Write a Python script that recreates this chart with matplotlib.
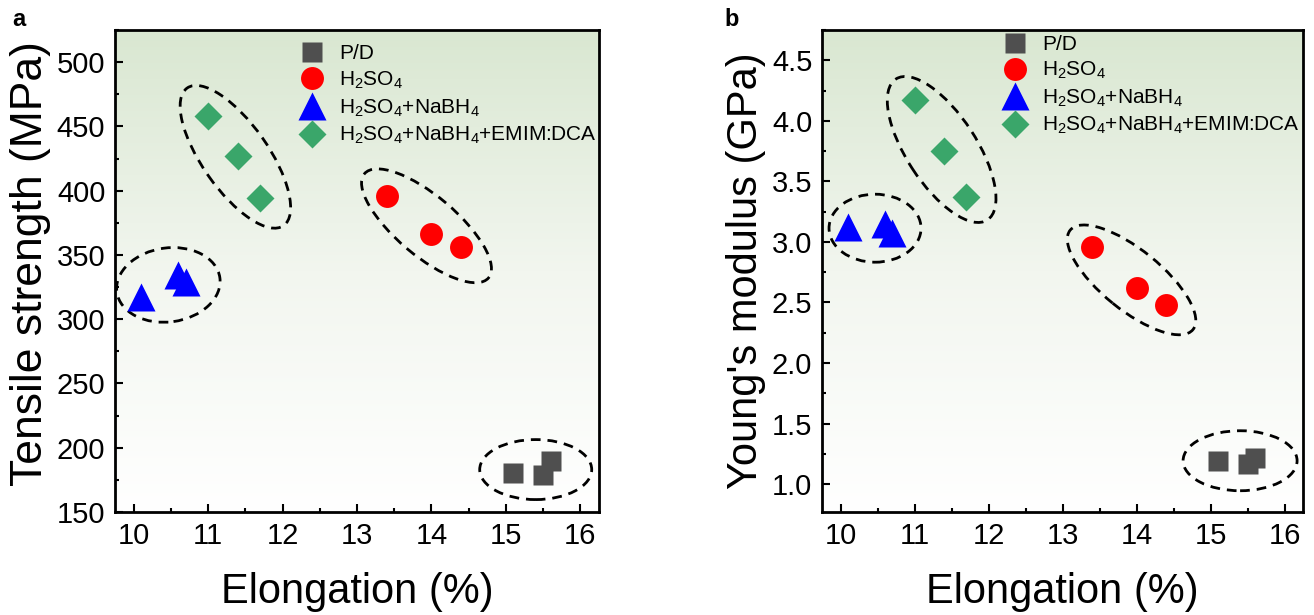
import numpy as np
import matplotlib
matplotlib.use('Agg')
import matplotlib.pyplot as plt
from matplotlib.patches import Ellipse
from matplotlib.transforms import ScaledTranslation
from matplotlib.colors import LinearSegmentedColormap
from matplotlib.ticker import MultipleLocator, FormatStrFormatter

plt.rcParams['font.family'] = ['Liberation Sans', 'DejaVu Sans']
plt.rcParams['mathtext.fontset'] = 'custom'
plt.rcParams['mathtext.rm'] = 'Liberation Sans'
plt.rcParams['mathtext.it'] = 'Liberation Sans:italic'
plt.rcParams['mathtext.bf'] = 'Liberation Sans:bold'

# ---------------- data ----------------
group_labels = ['P/D', 'H$_2$SO$_4$', 'H$_2$SO$_4$+NaBH$_4$',
                'H$_2$SO$_4$+NaBH$_4$+EMIM:DCA']

pd_elong = [15.1, 15.5, 15.6]
pd_tensile = [180, 179, 190]
pd_modulus = [1.19, 1.17, 1.22]

h2so4_elong = [13.4, 14.0, 14.4]
h2so4_tensile = [396, 366, 356]
h2so4_modulus = [2.96, 2.62, 2.48]

nabh4_elong = [10.1, 10.6, 10.7]
nabh4_tensile = [317, 334, 329]
nabh4_modulus = [3.12, 3.15, 3.07]

emim_elong = [11.0, 11.4, 11.7]
emim_tensile = [458, 427, 394]
emim_modulus = [4.17, 3.75, 3.37]

x_ticks = [10, 11, 12, 13, 14, 15, 16]
tensile_ticks = [150, 200, 250, 300, 350, 400, 450, 500]
modulus_ticks = [1.0, 1.5, 2.0, 2.5, 3.0, 3.5, 4.0, 4.5]

# ---------------- styles ----------------
markers = ['s', 'o', '^', 'D']
colors = ['#4f4f4f', '#ff0000', '#0000ff', '#3aa66a']
msizes = [15, 16.5, 19.5, 14.5]

# ellipse style: angle (deg), semi-major px, semi-minor px
ell_a = [(0, 56, 30), (-40, 81, 30), (8, 52, 37), (-55, 84, 33)]
ell_b = [(0, 57, 30), (-39, 79, 30), (0, 46, 34), (-57, 84, 35)]

W, H = 1314, 615
fig = plt.figure(figsize=(W / 100, H / 100), dpi=100)
fig.patch.set_facecolor('white')

grad_cmap = LinearSegmentedColormap.from_list('g', ['#ffffff', '#f2f6ef', '#d9e7d1'])


def make_panel(rect, yvals, ylim, yticks, ylabel, ylabel_size, ylabel_y,
               yminor, yfmt, ells, leg_anchor):
    ax = fig.add_axes(rect)
    grad = np.linspace(0, 1, 256).reshape(-1, 1)
    ax.imshow(grad, extent=[0, 1, 0, 1], transform=ax.transAxes, aspect='auto',
              cmap=grad_cmap, origin='lower', zorder=0, interpolation='bilinear')
    xs = [pd_elong, h2so4_elong, nabh4_elong, emim_elong]
    handles = []
    for i in range(4):
        h, = ax.plot(xs[i], yvals[i], linestyle='none', marker=markers[i],
                     ms=msizes[i], color=colors[i], mec='none', zorder=3,
                     label=group_labels[i])
        handles.append(h)
    ax.set_xlim(9.75, 16.25)
    ax.set_ylim(*ylim)
    ax.set_xticks(x_ticks)
    ax.set_yticks(yticks)
    ax.xaxis.set_minor_locator(MultipleLocator(0.5))
    ax.yaxis.set_minor_locator(MultipleLocator(yminor))
    ax.yaxis.set_major_formatter(FormatStrFormatter(yfmt))
    ax.tick_params(which='both', direction='in', top=False, right=False,
                   labelsize=21, width=1.5, colors='black')
    ax.tick_params(which='major', length=6, pad=7)
    ax.tick_params(which='minor', length=3)
    for s in ax.spines.values():
        s.set_linewidth(2.0)
    ax.set_xlabel('Elongation (%)', fontsize=30, labelpad=16)
    ax.set_ylabel(ylabel, fontsize=ylabel_size, labelpad=4)
    ax.yaxis.label.set_y(ylabel_y)

    # dashed ellipses around each group
    for i in range(4):
        cx = float(np.mean(xs[i]))
        cy = float(np.mean(yvals[i]))
        ang, a, b = ells[i]
        tr = fig.dpi_scale_trans + ScaledTranslation(cx, cy, ax.transData)
        e = Ellipse((0, 0), 2 * a / 100, 2 * b / 100, angle=ang, transform=tr,
                    fill=False, edgecolor='black', linewidth=2.0,
                    linestyle=(0, (3.5, 2.5)), zorder=2)
        ax.add_patch(e)

    ax.legend(handles=handles, loc='upper left', bbox_to_anchor=leg_anchor,
              frameon=False, fontsize=15, handlelength=1.0, handletextpad=0.8,
              labelspacing=0.3, borderaxespad=0, borderpad=0)
    return ax


ax_a = make_panel([115 / W, 1 - 512 / H, 484 / W, 482 / H],
                  [pd_tensile, h2so4_tensile, nabh4_tensile, emim_tensile],
                  (150, 525), tensile_ticks, 'Tensile strength (MPa)', 32, 0.515,
                  25, '%d', ell_a, (0.385, 0.97))
ax_b = make_panel([822 / W, 1 - 512 / H, 481 / W, 482 / H],
                  [pd_modulus, h2so4_modulus, nabh4_modulus, emim_modulus],
                  (0.77, 4.75), modulus_ticks, "Young's modulus (GPa)", 30, 0.5,
                  0.25, '%.1f', ell_b, (0.38, 0.99))

fig.text(12 / W, 1 - 20 / H, 'a', fontsize=17, fontweight='bold', va='center')
fig.text(724 / W, 1 - 20 / H, 'b', fontsize=17, fontweight='bold', va='center')

fig.savefig('out.png', dpi=100)
